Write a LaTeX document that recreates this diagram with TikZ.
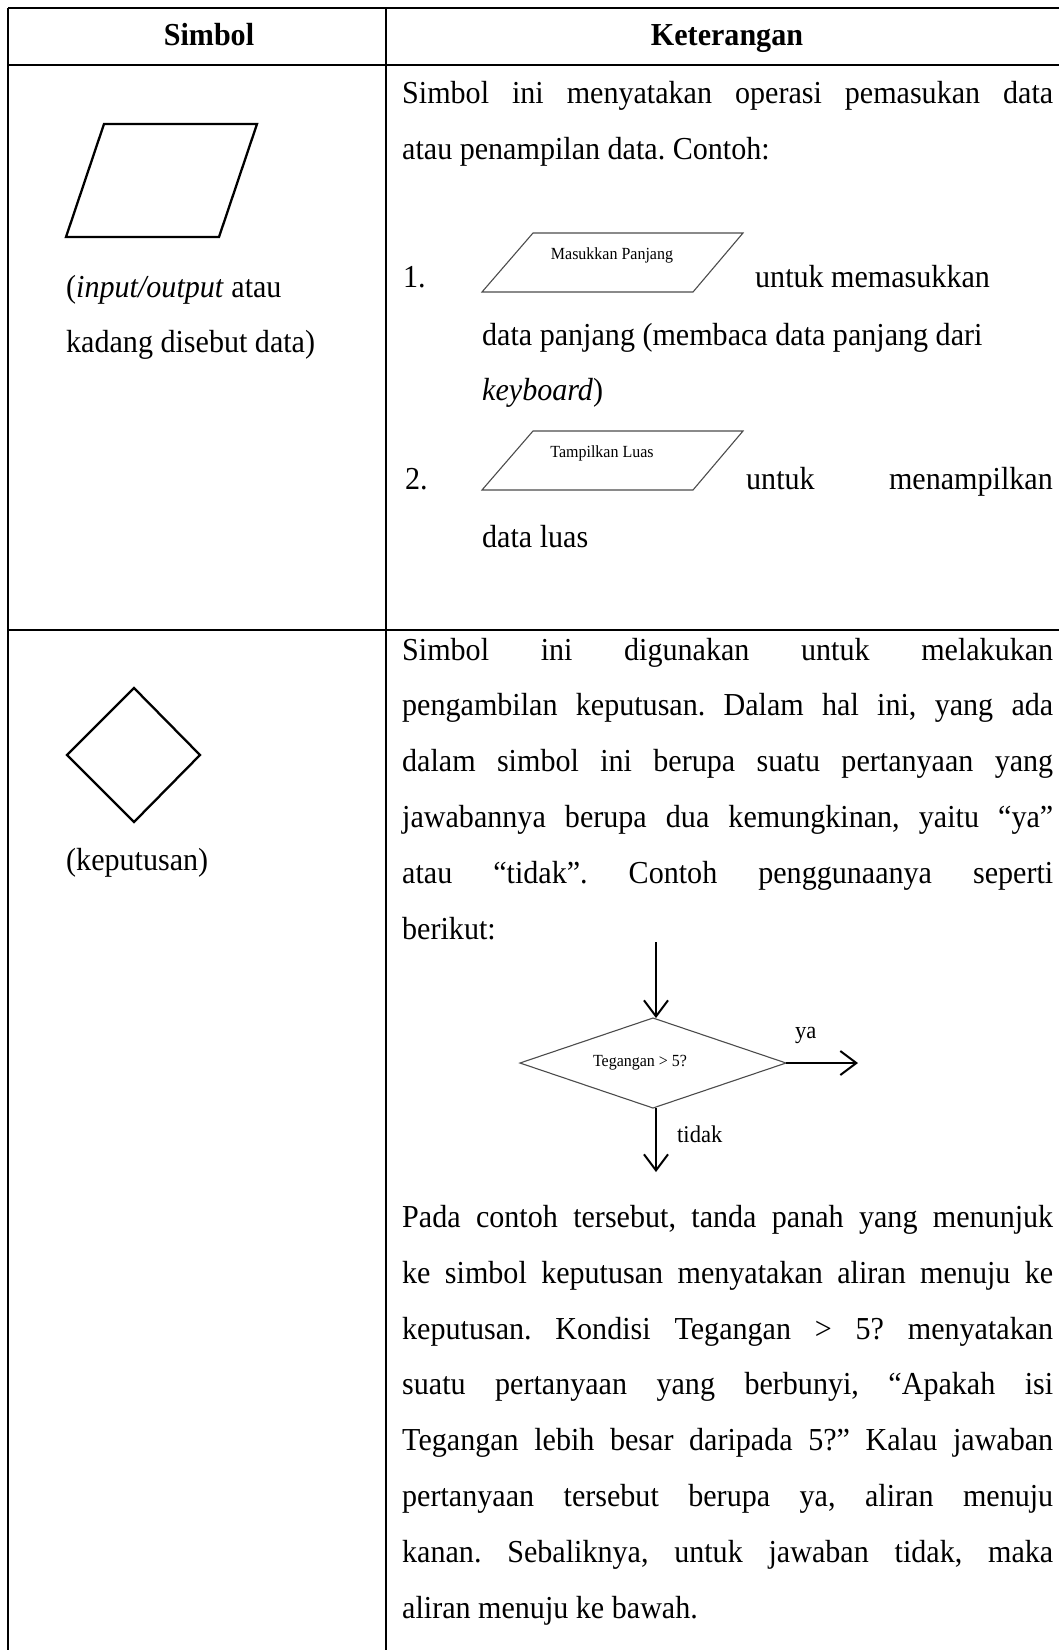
\documentclass[tikz,border=0pt]{standalone}
\usepackage{fontspec}
\setmainfont[FakeStretch=0.94]{Liberation Serif}
\usetikzlibrary{arrows.meta}
\newcommand\jline[1]{\makebox[651pt][s]{#1}}
\frenchspacing
\begin{document}
\frenchspacing
\begin{tikzpicture}[x=1pt,y=-1pt,
  tbl/.style={line width=2.5pt},
  body/.style={inner sep=0pt, anchor=base west, font=\fontsize{32}{38}\selectfont},
  bodyc/.style={inner sep=0pt, anchor=base, font=\fontsize{32}{38}\selectfont\bfseries},
  small/.style={inner sep=0pt, font=\fontsize{17}{20}\selectfont},
  bigshape/.style={line width=2.3pt, line join=miter},
  smallshape/.style={line width=1.1pt, draw=black!70},
  flow/.style={line width=2pt, -{Straight Barb[length=16pt,width=24pt]}}]
\useasboundingbox (0,0) rectangle (1059,1650);
\fill[white] (0,0) rectangle (1059,1650);
% table
\draw[tbl] (8,8) -- (1059,8);
\draw[tbl] (8,65) -- (1059,65);
\draw[tbl] (8,630) -- (1059,630);
\draw[tbl] (8,8) -- (8,1650);
\draw[tbl] (386,8) -- (386,1650);
% header
\node[bodyc] (h1) at (209,45) {Simbol};
\node[bodyc] (h2) at (727,45) {Keterangan};
% row 1 left
\draw[bigshape] (104,124) -- (257,124) -- (219,237) -- (66,237) -- cycle;
\node[body] (io1) at (66,297) {(\textit{input/output} atau};
\node[body] (io2) at (66,352) {kadang disebut data)};
% row 1 right
\node[body] (a1) at (402,103) {\jline{Simbol ini menyatakan operasi pemasukan data}};
\node[body] (a2) at (402,159) {atau penampilan data. Contoh:};
\node[body] (n1) at (403,287) {1.};
\draw[smallshape] (533,233) -- (743,233) -- (693,292) -- (482,292) -- cycle;
\node[small] (p1) at (612,255) {Masukkan Panjang};
\node[body] (a3) at (755,287) {untuk memasukkan};
\node[body] (a4) at (482,345) {data panjang (membaca data panjang dari};
\node[body] (a5) at (482,400) {\textit{keyboard})};
\node[body] (n2) at (405,489) {2.};
\draw[smallshape] (533,431) -- (743,431) -- (693,490) -- (482,490) -- cycle;
\node[small] (p2) at (602,453) {Tampilkan Luas};
\node[body] (a6) at (746,489) {untuk};
\node[body, anchor=base east] (a7) at (1053,489) {menampilkan};
\node[body] (a8) at (482,547) {data luas};
% row 2 left
\draw[bigshape] (134,688) -- (200,755) -- (134,822) -- (67,755) -- cycle;
\node[body] (kp) at (66,870) {(keputusan)};
% row 2 right
\node[body] (b1) at (402,660) {\jline{Simbol ini digunakan untuk melakukan}};
\node[body] (b2) at (402,715.8) {\jline{pengambilan keputusan. Dalam hal ini, yang ada}};
\node[body] (b3) at (402,771.6) {\jline{dalam simbol ini berupa suatu pertanyaan yang}};
\node[body] (b4) at (402,827.4) {\jline{jawabannya berupa dua kemungkinan, yaitu “ya”}};
\node[body] (b5) at (402,883.2) {\jline{atau “tidak”. Contoh penggunaanya seperti}};
\node[body] (b6) at (402,939) {berikut:};
% decision example
\coordinate (din) at (656,942);
\coordinate (dt) at (653,1018);
\coordinate (dr) at (786,1063);
\coordinate (db) at (653,1108);
\coordinate (dl) at (520,1063);
\draw[smallshape] (dt) -- (dr) -- (db) -- (dl) -- cycle;
\node[small] (dq) at (640,1063) {Tegangan > 5?};
\coordinate (dtop) at (656,1018);
\coordinate (dbot) at (656,1108);
\coordinate (yend) at (858,1063);
\coordinate (tend) at (656,1172);
\draw[flow] (din) -- (dtop);
\draw[flow] (dr) -- (yend);
\draw[flow] (dbot) -- (tend);
\node[body, anchor=base west, font=\fontsize{24}{28}\selectfont] (ya) at (795,1038) {ya};
\node[body, anchor=base west, font=\fontsize{24}{28}\selectfont] (td) at (677,1142) {tidak};
\node[body] (c1) at (402,1227.4) {\jline{Pada contoh tersebut, tanda panah yang menunjuk}};
\node[body] (c2) at (402,1283.2) {\jline{ke simbol keputusan menyatakan aliran menuju ke}};
\node[body] (c3) at (402,1339) {\jline{keputusan. Kondisi Tegangan > 5? menyatakan}};
\node[body] (c4) at (402,1394.8) {\jline{suatu pertanyaan yang berbunyi, “Apakah isi}};
\node[body] (c5) at (402,1450.6) {\jline{Tegangan lebih besar daripada 5?” Kalau jawaban}};
\node[body] (c6) at (402,1506.4) {\jline{pertanyaan tersebut berupa ya, aliran menuju}};
\node[body] (c7) at (402,1562.2) {\jline{kanan. Sebaliknya, untuk jawaban tidak, maka}};
\node[body] (c8) at (402,1618) {aliran menuju ke bawah.};
\end{tikzpicture}
\end{document}
